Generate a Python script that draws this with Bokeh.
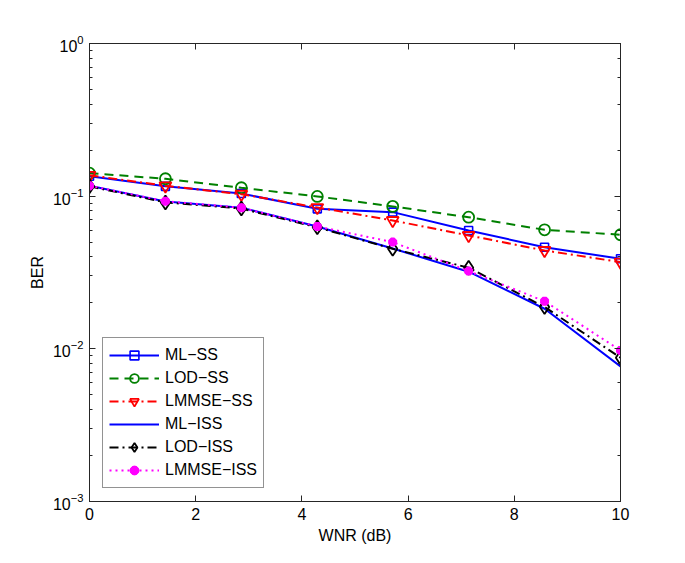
from bokeh.plotting import figure
from bokeh.models import (Range1d, LogAxis, LinearAxis, Legend, LegendItem, LogTicker,
                          FixedTicker, CustomJSTickFormatter)
from bokeh.embed import file_html
from bokeh.resources import INLINE

# ---- data ----
wnr = [0, 1.43, 2.86, 4.29, 5.71, 7.14, 8.57, 10]
ml_ss = [0.135, 0.116, 0.104, 0.0826, 0.0786, 0.0596, 0.0463, 0.0389]
lod_ss = [0.1415, 0.130, 0.1135, 0.0996, 0.0857, 0.0728, 0.0602, 0.0559]
lmmse_ss = [0.137, 0.117, 0.103, 0.0843, 0.0693, 0.0553, 0.0441, 0.0370]
ml_iss = [0.117, 0.0923, 0.084, 0.0633, 0.0454, 0.0320, 0.0183, 0.00767]
lod_iss = [0.116, 0.091, 0.083, 0.0625, 0.0452, 0.034, 0.0188, 0.00875]
lmmse_iss = [0.117, 0.0927, 0.084, 0.0633, 0.050, 0.0323, 0.0205, 0.00977]
x_ticks = [0, 2, 4, 6, 8, 10]

FONT = "Liberation Sans"
AX = "#262626"

p = figure(width=669, height=547, y_axis_type="log",
           x_range=Range1d(0, 10), y_range=Range1d(1e-3, 1),
           output_backend="svg", toolbar_location=None,
           min_border_left=89, min_border_right=49,
           min_border_top=43, min_border_bottom=46)
p.grid.visible = False
p.outline_line_color = AX
p.background_fill_color = "white"
p.border_fill_color = "white"

blank = CustomJSTickFormatter(code="return '';")

def style_axis(ax, labels=True):
    ax.axis_line_color = AX
    ax.major_tick_line_color = AX
    ax.minor_tick_line_color = AX
    ax.major_tick_in = 6
    ax.major_tick_out = 0
    ax.minor_tick_in = 3
    ax.minor_tick_out = 0
    ax.major_label_text_font = FONT
    ax.major_label_text_color = "black"
    ax.major_label_text_font_size = "16px"
    ax.axis_label_text_font = FONT
    ax.axis_label_text_font_style = "normal"
    ax.axis_label_text_font_size = "16px"
    ax.axis_label_text_color = "black"
    if not labels:
        ax.formatter = blank
        ax.major_label_standoff = 0

p.xaxis.ticker = FixedTicker(ticks=x_ticks)
p.xaxis.axis_label = "WNR (dB)"
p.yaxis.axis_label = "BER"
style_axis(p.xaxis[0])
style_axis(p.yaxis[0])
p.xaxis.minor_tick_line_color = None
p.xaxis.major_label_standoff = 6
p.xaxis.axis_label_standoff = 4
p.yaxis.major_label_standoff = 6
p.yaxis.axis_label_standoff = 4

ra = LogAxis(ticker=LogTicker())
style_axis(ra, labels=False)
p.add_layout(ra, "right")
ta = LinearAxis(ticker=FixedTicker(ticks=x_ticks))
style_axis(ta, labels=False)
ta.minor_tick_line_color = None
p.add_layout(ta, "above")

LW = 2

items = []

r1 = p.line(wnr, ml_ss, line_color="#0000ff", line_width=LW)
s1 = p.scatter(wnr, ml_ss, marker="square", size=8, line_color="#0000ff", fill_color=None, line_width=1.6)
items.append(LegendItem(label="ML\u2212SS", renderers=[r1, s1]))

r2 = p.line(wnr, lod_ss, line_color="#008000", line_width=LW, line_dash="9 6")
s2 = p.scatter(wnr, lod_ss, marker="circle", size=11, line_color="#008000", fill_color=None, line_width=1.8)
items.append(LegendItem(label="LOD\u2212SS", renderers=[r2, s2]))

r3 = p.line(wnr, lmmse_ss, line_color="#ff0000", line_width=LW, line_dash="9 4 2 4")
s3 = p.scatter(wnr, lmmse_ss, marker="inverted_triangle", size=12, line_color="#ff0000", fill_color=None, line_width=1.8)
items.append(LegendItem(label="LMMSE\u2212SS", renderers=[r3, s3]))

r4 = p.line(wnr, ml_iss, line_color="#0000ff", line_width=LW)
items.append(LegendItem(label="ML\u2212ISS", renderers=[r4]))

r5 = p.line(wnr, lod_iss, line_color="black", line_width=LW, line_dash="9 4 2 4")
s5 = p.scatter(wnr, lod_iss, marker="diamond", size=14, line_color="black", fill_color=None, line_width=1.8)
items.append(LegendItem(label="LOD\u2212ISS", renderers=[r5, s5]))

r6 = p.line(wnr, lmmse_iss, line_color="#ff00ff", line_width=LW, line_dash="2 4")
s6 = p.scatter(wnr, lmmse_iss, marker="asterisk", size=9, line_color="#ff00ff", line_width=3.5)
s6b = p.scatter(wnr, lmmse_iss, marker="circle", size=7, line_color="#ff00ff", fill_color="#ff00ff")
items.append(LegendItem(label="LMMSE\u2212ISS", renderers=[r6, s6, s6b]))

legend = Legend(items=items, location=(13, 13))
legend.label_text_font = FONT
legend.label_text_font_size = "16px"
legend.label_text_color = "black"
legend.glyph_width = 50
legend.glyph_height = 22
legend.label_height = 22
legend.label_standoff = 6
legend.spacing = 1
legend.padding = 6
legend.margin = 0
legend.border_line_color = AX
legend.border_line_width = 1
legend.background_fill_color = "white"
legend.background_fill_alpha = 1
p.add_layout(legend, "center")

open("out.html", "w").write(file_html(p, INLINE))
